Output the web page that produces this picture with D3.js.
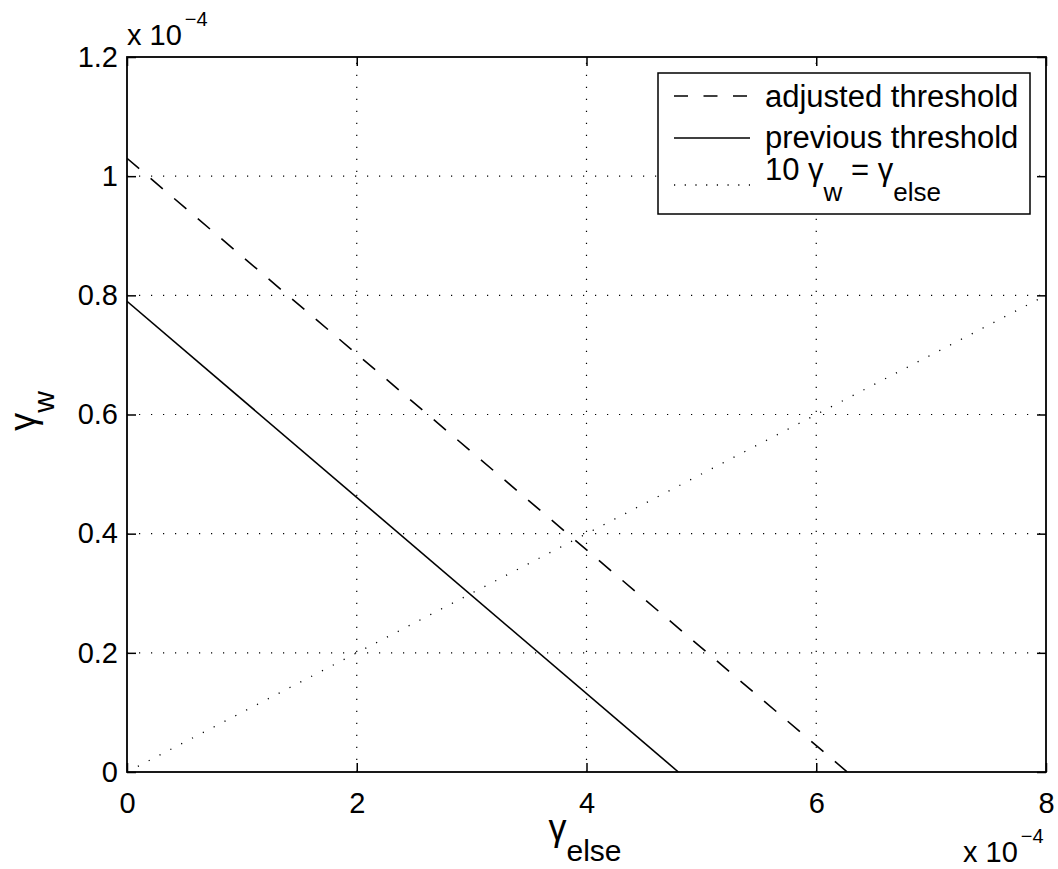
<!DOCTYPE html>
<html>
<head>
<meta charset="utf-8">
<script src="https://cdn.jsdelivr.net/npm/d3@7/dist/d3.min.js"></script>
<style>
  html, body { margin: 0; padding: 0; background: #fff; }
  svg { display: block; font-family: "Liberation Sans", Arial, Helvetica, sans-serif; }
</style>
</head>
<body>
<svg id="chart" width="1058" height="869"></svg>
<script>
// Threshold lines in the (gamma_else, gamma_w) plane, values in absolute units
const adjustedThreshold = [[0, 1.03e-4], [6.27e-4, 0]];
const previousThreshold = [[0, 0.79e-4], [4.8e-4, 0]];
const referenceLine = [[0, 0], [8e-4, 0.8e-4]];   // 10 gamma_w = gamma_else

const xTicks = [0, 2e-4, 4e-4, 6e-4, 8e-4];
const yTicks = [0, 0.2e-4, 0.4e-4, 0.6e-4, 0.8e-4, 1.0e-4, 1.2e-4];
const tickScale = 1e-4;

const legendLabels = ["adjusted threshold", "previous threshold"];

const W = 1058, H = 869;
const m = { left: 127, top: 57, right: 12, bottom: 97 };
const iw = W - m.left - m.right, ih = H - m.top - m.bottom;

const svg = d3.select("#chart");
const g = svg.append("g").attr("transform", `translate(${m.left},${m.top})`);

const x = d3.scaleLinear().domain([0, 8e-4]).range([0, iw]);
const y = d3.scaleLinear().domain([0, 1.2e-4]).range([ih, 0]);

const fmt = v => d3.format("~g")(+(v / tickScale).toFixed(6));

// dotted grid
const grid = g.append("g").attr("stroke", "#000").attr("stroke-width", 1.2)
  .attr("stroke-dasharray", "1.2,10.8");
grid.selectAll(".gx").data(xTicks.slice(1, -1)).join("line")
  .attr("x1", d => x(d)).attr("x2", d => x(d)).attr("y1", ih).attr("y2", 0);
grid.selectAll(".gy").data(yTicks.slice(1, -1)).join("line")
  .attr("y1", d => y(d)).attr("y2", d => y(d)).attr("x1", 0).attr("x2", iw);

// axes with inward ticks on all four sides
const tick = 9;
const xAxis = d3.axisBottom(x).tickValues(xTicks).tickSize(-tick).tickPadding(20).tickFormat(fmt);
const yAxis = d3.axisLeft(y).tickValues(yTicks).tickSize(-tick).tickPadding(9).tickFormat(fmt);
const xTop = d3.axisTop(x).tickValues(xTicks).tickSize(-tick).tickFormat("");
const yRight = d3.axisRight(y).tickValues(yTicks).tickSize(-tick).tickFormat("");

function styleAxis(sel) {
  sel.select(".domain").remove();
  sel.selectAll(".tick line").attr("stroke", "#000").attr("stroke-width", 1.5);
  sel.selectAll(".tick text").attr("fill", "#000").attr("font-size", 29)
    .attr("font-family", "Liberation Sans, Arial, sans-serif");
}
g.append("g").attr("transform", `translate(0,${ih})`).call(xAxis).call(styleAxis);
g.append("g").call(yAxis).call(styleAxis);
g.append("g").call(xTop).call(styleAxis);
g.append("g").attr("transform", `translate(${iw},0)`).call(yRight).call(styleAxis);

// data lines
g.append("clipPath").attr("id", "plotClip").append("rect")
  .attr("width", iw).attr("height", ih);
const line = d3.line().x(d => x(d[0])).y(d => y(d[1]));
const lines = g.append("g").attr("clip-path", "url(#plotClip)").attr("fill", "none").attr("stroke", "#000");
lines.append("path").datum(referenceLine).attr("d", line)
  .attr("stroke-width", 1.3).attr("stroke-dasharray", "1.2,11");
lines.append("path").datum(previousThreshold).attr("d", line).attr("stroke-width", 1.6);
lines.append("path").datum(adjustedThreshold).attr("d", line)
  .attr("stroke-width", 1.6).attr("stroke-dasharray", "16,15");

// plot box
g.append("rect").attr("width", iw).attr("height", ih)
  .attr("fill", "none").attr("stroke", "#000").attr("stroke-width", 1.8);

// exponent labels "x 10^-4"
function exponent(px, py) {
  const t = svg.append("text").attr("x", px).attr("y", py).attr("font-size", 29).attr("fill", "#000");
  t.append("tspan").text("x 10");
  t.append("tspan").attr("dy", -19).attr("dx", 3).attr("font-size", 20).text("\u22124");
}
exponent(127, 45);
exponent(963, 862);

// axis labels with subscripts
function subLabel(sel, base, sub, size, subSize, drop) {
  sel.append("tspan").attr("font-size", size).text(base);
  sel.append("tspan").attr("font-size", subSize).attr("dy", drop).text(sub);
}
svg.append("text").attr("x", 585).attr("y", 840).attr("text-anchor", "middle").attr("fill", "#000")
  .call(subLabel, "γ", "else", 36, 30, 21);
svg.append("text").attr("transform", "translate(35,411) rotate(-90)").attr("text-anchor", "middle")
  .attr("fill", "#000").call(subLabel, "γ", "w", 36, 30, 19);

// legend
const lg = svg.append("g");
lg.append("rect").attr("x", 658).attr("y", 73).attr("width", 372).attr("height", 141)
  .attr("fill", "#fff").attr("stroke", "#000").attr("stroke-width", 1.5);
const rowsY = [96, 138, 185];
const dashes = ["14,15.5", null, "1.2,9.5"];
rowsY.forEach((ry, i) => {
  const l = lg.append("line").attr("x1", 674).attr("x2", 750).attr("y1", ry).attr("y2", ry)
    .attr("stroke", "#000").attr("stroke-width", 1.6);
  if (dashes[i]) l.attr("stroke-dasharray", dashes[i]);
});
const ltext = (ty) => lg.append("text").attr("x", 765).attr("y", ty).attr("font-size", 31).attr("fill", "#000");
ltext(107).text(legendLabels[0]);
ltext(148).text(legendLabels[1]);
const t3 = ltext(180);
t3.append("tspan").text("10 γ");
t3.append("tspan").attr("dy", 21).attr("font-size", 26).text("w");
t3.append("tspan").attr("dy", -21).text(" = γ");
t3.append("tspan").attr("dy", 21).attr("font-size", 26).text("else");
</script>
</body>
</html>
